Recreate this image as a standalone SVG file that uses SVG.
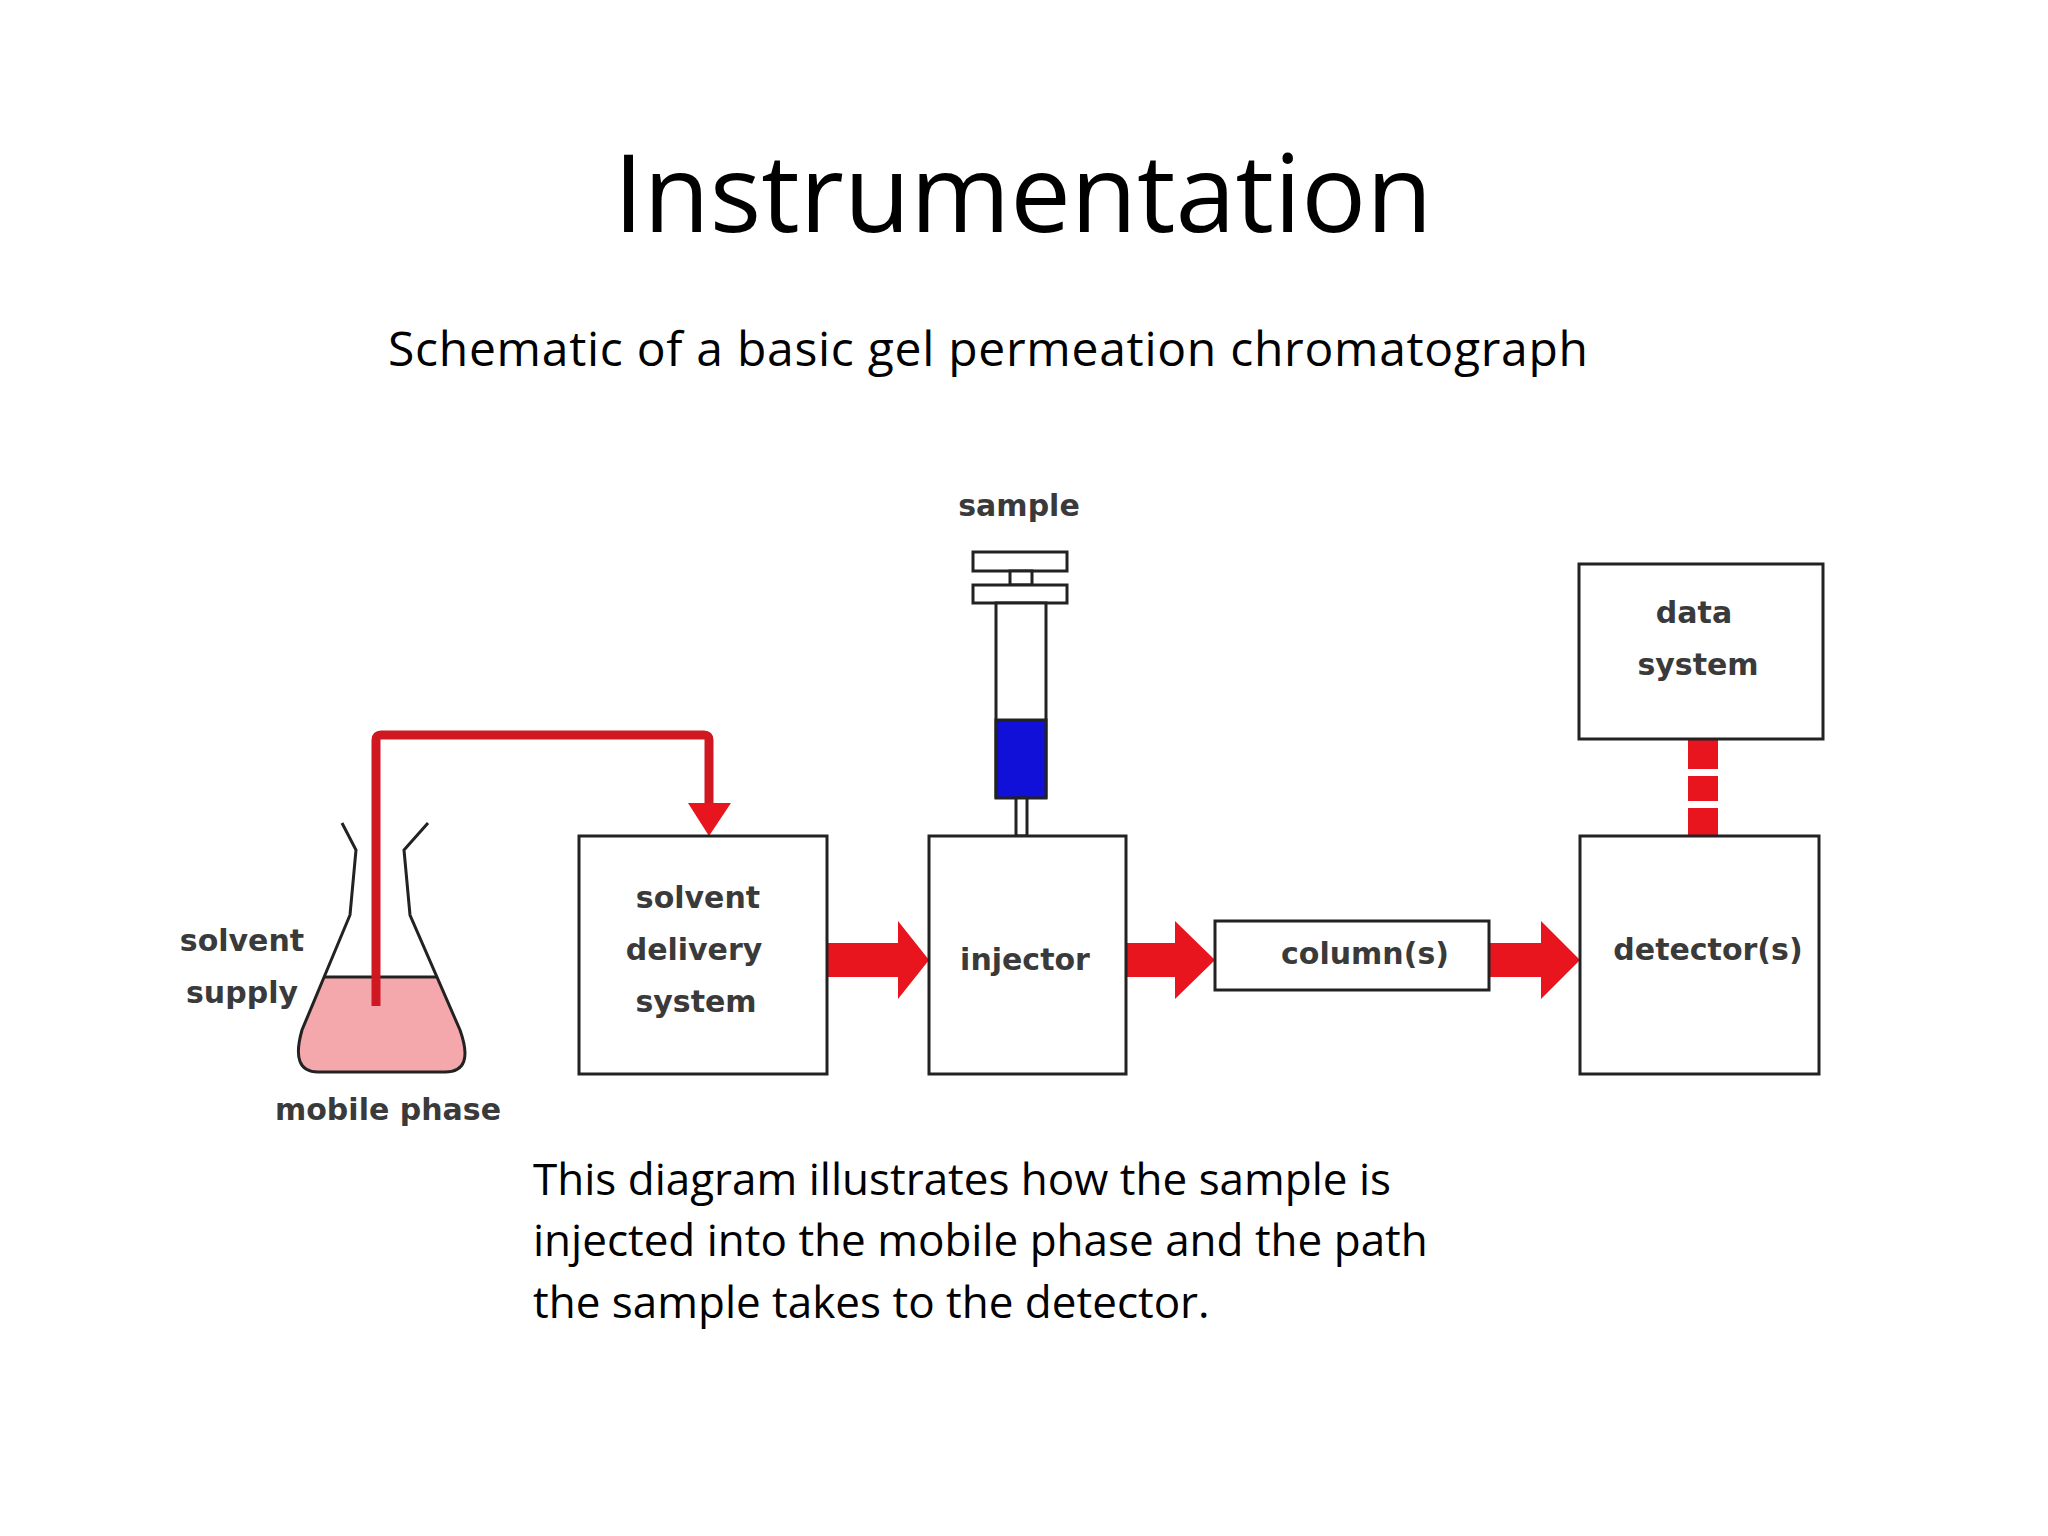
<svg xmlns="http://www.w3.org/2000/svg" width="2048" height="1536" viewBox="0 0 2048 1536">
<style>
.t{font-family:"Open Sans","Noto Sans",sans-serif;fill:#000}
.l{font-family:"DejaVu Sans","Liberation Sans",sans-serif;font-weight:bold;fill:#3a3a3a;font-size:30px;text-anchor:middle}
.box{fill:#fff;stroke:#222;stroke-width:3}
.red{fill:#e8141e}
</style>
<rect width="2048" height="1536" fill="#fff"/>
<text class="t" x="1023" y="232" font-size="108" text-anchor="middle">Instrumentation</text>
<text class="t" x="388" y="366" font-size="48" textLength="1200">Schematic of a basic gel permeation chromatograph</text>
<g id="flask">
<path d="M324,977 L437,977 L460,1030 Q475,1072 445,1072 L318,1072 Q290,1072 302,1030 Z" fill="#f4a8ac"/>
<path d="M342,823 L356,850 L350,915 L302,1030 Q290,1072 318,1072 L445,1072 Q475,1072 460,1030 L410,915 L404,850 L428,823" fill="none" stroke="#222" stroke-width="3"/>
<line x1="324" y1="977" x2="437" y2="977" stroke="#222" stroke-width="3"/>
<text class="l" x="242" y="951">solvent</text>
<text class="l" x="242" y="1003">supply</text>
<text class="l" x="388" y="1120">mobile phase</text>
</g>
<g id="connectors">
<path d="M376,1006 V740 Q376,735 381,735 H704 Q709,735 709,740 V806" fill="none" stroke="#d01822" stroke-width="9"/>
<polygon class="red" points="688,803 731,803 709,836"/>
<polygon class="red" points="827,943 898,943 898,921 929,960 898,999 898,977 827,977"/>
<polygon class="red" points="1126,943 1175,943 1175,921 1215,960 1175,999 1175,977 1126,977"/>
<polygon class="red" points="1489,943 1541,943 1541,921 1580,960 1541,999 1541,977 1489,977"/>
<rect class="red" x="1688" y="739" width="30" height="30"/>
<rect class="red" x="1688" y="776" width="30" height="25"/>
<rect class="red" x="1688" y="808" width="30" height="28"/>
</g>
<g id="syringe">
<rect x="973" y="552" width="94" height="19" class="box"/>
<rect x="1010" y="571" width="22" height="14" class="box"/>
<rect x="973" y="585" width="94" height="18" class="box"/>
<rect x="996" y="603" width="50" height="194" class="box"/>
<rect x="996" y="720" width="50" height="78" fill="#1010d8" stroke="#222" stroke-width="3"/>
<rect x="1016" y="798" width="11" height="38" class="box"/>
<text class="l" x="1019" y="516">sample</text>
</g>
<g id="solvent-delivery"><rect x="579" y="836" width="248" height="238" class="box"/>
<text class="l" x="698" y="908">solvent</text><text class="l" x="694" y="960">delivery</text><text class="l" x="696" y="1012">system</text></g>
<g id="injector"><rect x="929" y="836" width="197" height="238" class="box"/><text class="l" x="1025" y="970">injector</text></g>
<g id="column"><rect x="1215" y="921" width="274" height="69" class="box"/><text class="l" x="1365" y="964">column(s)</text></g>
<g id="detector"><rect x="1580" y="836" width="239" height="238" class="box"/><text class="l" x="1708" y="960">detector(s)</text></g>
<g id="data-system"><rect x="1579" y="564" width="244" height="175" class="box"/>
<text class="l" x="1694" y="623">data</text><text class="l" x="1698" y="675">system</text></g>
<g>
<text class="t" x="533" y="1195" font-size="44">This diagram illustrates how the sample is</text>
<text class="t" x="533" y="1256" font-size="44">injected into the mobile phase and the path</text>
<text class="t" x="533" y="1318" font-size="44">the sample takes to the detector.</text>
</g>
</svg>
